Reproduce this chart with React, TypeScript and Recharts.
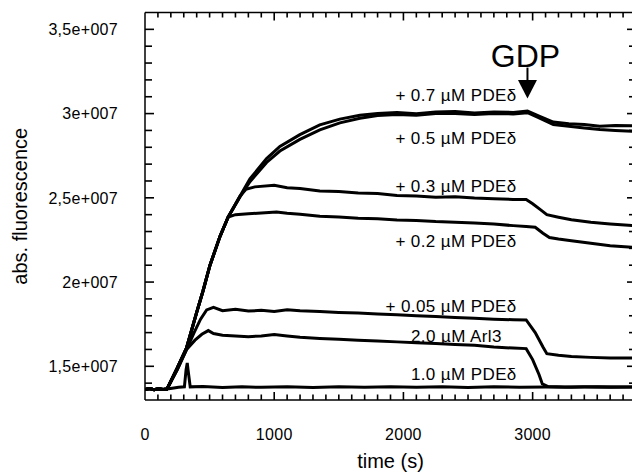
import React from 'react';
import { LineChart, Line, XAxis, YAxis, ReferenceDot, ReferenceLine } from 'recharts';

// fluorescence values are in units of 1e7, time in seconds
const preT = [0, 35, 70, 105, 140, 170];
const preV = [1.362, 1.368, 1.361, 1.367, 1.363, 1.365];

// common rise after Arl3 injection
const riseT = [250, 322, 400, 450, 503, 580, 644];
const riseV = [1.49, 1.61, 1.82, 1.95, 2.1, 2.27, 2.386];

const pde07T = [735, 812, 941, 1044, 1199, 1353, 1508, 1663, 1800, 1950, 2100, 2250, 2400, 2550, 2700, 2850, 2960, 3050, 3160, 3280, 3400, 3520, 3640, 3790];
const pde07V = [2.51, 2.612, 2.733, 2.805, 2.875, 2.933, 2.967, 2.99, 3.0, 3.006, 2.999, 3.01, 3.012, 3.004, 3.01, 3.007, 3.015, 2.985, 2.95, 2.94, 2.935, 2.925, 2.93, 2.928];

const pde05T = [735, 812, 941, 1044, 1199, 1353, 1508, 1663, 1800, 1950, 2100, 2250, 2400, 2550, 2700, 2850, 2960, 3050, 3160, 3280, 3400, 3520, 3640, 3790];
const pde05V = [2.505, 2.596, 2.71, 2.778, 2.847, 2.903, 2.945, 2.972, 2.988, 2.995, 2.99, 3.0, 3.0, 2.995, 3.0, 2.998, 3.005, 2.975, 2.935, 2.925, 2.915, 2.905, 2.9, 2.895];

const pde03T = [735, 780, 850, 1000, 1100, 1200, 1353, 1500, 1650, 1800, 1950, 2100, 2250, 2400, 2550, 2700, 2850, 2950, 3000, 3060, 3110, 3200, 3300, 3450, 3600, 3790];
const pde03V = [2.51, 2.55, 2.565, 2.574, 2.56, 2.556, 2.54, 2.537, 2.528, 2.525, 2.514, 2.511, 2.503, 2.506, 2.499, 2.495, 2.49, 2.49, 2.465, 2.43, 2.4, 2.385, 2.37, 2.355, 2.345, 2.335];

const pde02T = [700, 800, 900, 1018, 1100, 1200, 1353, 1500, 1650, 1800, 1950, 2100, 2250, 2400, 2550, 2700, 2850, 2950, 3020, 3080, 3130, 3200, 3300, 3450, 3600, 3790];
const pde02V = [2.4, 2.405, 2.41, 2.416, 2.408, 2.402, 2.39, 2.386, 2.379, 2.376, 2.369, 2.366, 2.359, 2.355, 2.35, 2.344, 2.335, 2.33, 2.325, 2.29, 2.264, 2.255, 2.245, 2.23, 2.215, 2.205];

const pde005T = [250, 322, 380, 430, 477, 530, 600, 700, 800, 900, 1000, 1100, 1200, 1353, 1500, 1650, 1800, 1950, 2100, 2250, 2400, 2550, 2700, 2850, 2950, 3020, 3080, 3110, 3200, 3300, 3450, 3600, 3790];
const pde005V = [1.48, 1.6, 1.7, 1.78, 1.835, 1.85, 1.83, 1.838, 1.828, 1.832, 1.826, 1.836, 1.83, 1.826, 1.82, 1.816, 1.81, 1.806, 1.8, 1.795, 1.79, 1.785, 1.78, 1.776, 1.775, 1.7, 1.615, 1.575, 1.565, 1.558, 1.553, 1.55, 1.55];

const arl3T = [250, 322, 387, 440, 490, 530, 600, 700, 800, 900, 1000, 1100, 1200, 1353, 1500, 1650, 1800, 1950, 2100, 2250, 2400, 2550, 2700, 2850, 2950, 3000, 3050, 3075, 3120, 3250, 3400, 3600, 3790];
const arl3V = [1.48, 1.6, 1.655, 1.69, 1.712, 1.695, 1.685, 1.68, 1.676, 1.68, 1.688, 1.68, 1.672, 1.665, 1.66, 1.655, 1.65, 1.645, 1.64, 1.635, 1.63, 1.625, 1.615, 1.608, 1.605, 1.54, 1.45, 1.395, 1.38, 1.377, 1.378, 1.376, 1.378];

const pde10T = [210, 260, 305, 318, 327, 333, 350, 450, 600, 750, 900, 1100, 1300, 1500, 1700, 1900, 2100, 2300, 2500, 2700, 2900, 3100, 3300, 3500, 3790];
const pde10V = [1.37, 1.376, 1.378, 1.48, 1.52, 1.48, 1.378, 1.38, 1.374, 1.378, 1.375, 1.379, 1.374, 1.378, 1.375, 1.379, 1.376, 1.378, 1.374, 1.378, 1.376, 1.377, 1.375, 1.378, 1.377];

const noteText = ['+ 0.7 µM PDEδ', '+ 0.5 µM PDEδ', '+ 0.3 µM PDEδ', '+ 0.2 µM PDEδ', '+ 0.05 µM PDEδ', '2.0 µM Arl3', '1.0 µM PDEδ'];
const noteT = [2877, 2877, 2877, 2877, 2877, 2761, 2877];
const noteV = [3.073, 2.822, 2.537, 2.206, 1.822, 1.644, 1.417];

const gdpT = 2960;
const gdpV = 3.089;

const xDomain = [0, 3800];
const yDomain = [1.3, 3.6];
const xMajor = [0, 1000, 2000, 3000];
const yMajor = [1.5, 2, 2.5, 3, 3.5];
const xMinor = Array.from({ length: 37 }, (_, i) => (i + 1) * 100);
const yMinor = Array.from({ length: 22 }, (_, i) => (14 + i) / 10);

const toPoints = (t: number[], v: number[]) => t.map((x, i) => ({ t: x, v: v[i] }));

const series = [
  toPoints([...preT, ...riseT, ...pde07T], [...preV, ...riseV, ...pde07V]),
  toPoints([...preT, ...riseT, ...pde05T], [...preV, ...riseV, ...pde05V]),
  toPoints([...preT, ...riseT, ...pde03T], [...preV, ...riseV, ...pde03V]),
  toPoints([...preT, ...riseT, ...pde02T], [...preV, ...riseV, ...pde02V]),
  toPoints([...preT, ...pde005T], [...preV, ...pde005V]),
  toPoints([...preT, ...arl3T], [...preV, ...arl3V]),
  toPoints([...preT, ...pde10T], [...preV, ...pde10V]),
];

const fmtY = (v: number) => `${String(v).replace('.', ',')}e+007`;

// chart layout
const W = 640;
const H = 474;
const M = { top: 12.5, right: 4, bottom: 0, left: 0 };
const X_AXIS_H = 74;
const Y_AXIS_W = 145;
const plotW = W - M.left - M.right - Y_AXIS_W;
const plotH = H - M.top - M.bottom - X_AXIS_H;
// one pixel in data units, used for tick lengths
const pxT = (xDomain[1] - xDomain[0]) / plotW;
const pxV = (yDomain[1] - yDomain[0]) / plotH;

const frame = { stroke: '#000', strokeWidth: 1.5 };
const tickFont = { fill: '#000', fontSize: 16, letterSpacing: 0.3 };

// inward tick marks on all four sides of the frame
const tickSegs: { a: { x: number; y: number }; b: { x: number; y: number } }[] = [];
xMinor.forEach((t) => {
  const major = xMajor.includes(t);
  const lb = (major ? 8 : 5.5) * pxV;
  const lt = (major ? 8 : 5) * pxV;
  tickSegs.push({ a: { x: t, y: yDomain[0] }, b: { x: t, y: yDomain[0] + lb } });
  tickSegs.push({ a: { x: t, y: yDomain[1] }, b: { x: t, y: yDomain[1] - lt } });
});
yMinor.forEach((v) => {
  const major = yMajor.includes(v);
  const l = (major ? 9 : 7) * pxT;
  tickSegs.push({ a: { x: xDomain[0], y: v }, b: { x: xDomain[0] + l, y: v } });
  tickSegs.push({ a: { x: xDomain[1], y: v }, b: { x: xDomain[1] - l, y: v } });
});

const GdpArrow = ({ cx, cy }: any) => (
  <g>
    <line x1={cx} y1={cy - 31} x2={cx} y2={cy - 17} stroke="#000" strokeWidth={2} />
    <path d={`M${cx - 9.5},${cy - 18.5} L${cx + 9.5},${cy - 18.5} L${cx},${cy} Z`} fill="#000" />
    <text x={cx - 2} y={cy - 31.6} textAnchor="middle" fontSize={32} fill="#000">
      GDP
    </text>
  </g>
);

export default function App() {
  return (
    <div
      style={{
        width: 632,
        height: 474,
        overflow: 'hidden',
        background: '#fff',
        fontFamily: "'Liberation Sans', Arial, Helvetica, sans-serif",
      }}
    >
      <style>{'html, body { margin: 0; padding: 0; overflow: hidden; }'}</style>
      <LineChart width={W} height={H} data={series[6]} margin={M}>
        <XAxis
          xAxisId="x"
          type="number"
          dataKey="t"
          domain={xDomain}
          allowDataOverflow
          ticks={xMajor}
          interval={0}
          height={X_AXIS_H}
          tickLine={false}
          tickSize={0}
          tickMargin={29}
          axisLine={frame}
          tick={tickFont}
          label={{ value: 'time (s)', position: 'insideBottom', offset: 6, fill: '#000', fontSize: 20 }}
        />
        <XAxis
          xAxisId="xt"
          orientation="top"
          mirror
          type="number"
          dataKey="t"
          domain={xDomain}
          allowDataOverflow
          height={1}
          tick={false}
          tickLine={false}
          axisLine={frame}
        />
        <YAxis
          yAxisId="y"
          type="number"
          domain={yDomain}
          allowDataOverflow
          ticks={yMajor}
          interval={0}
          width={Y_AXIS_W}
          tickLine={false}
          tickSize={0}
          tickMargin={27}
          tickFormatter={fmtY}
          axisLine={frame}
          tick={tickFont}
          label={{
            value: 'abs. fluorescence',
            angle: -90,
            position: 'insideLeft',
            offset: 20,
            fill: '#000',
            fontSize: 20,
            style: { textAnchor: 'middle' },
          }}
        />
        <YAxis
          yAxisId="yr"
          orientation="right"
          mirror
          type="number"
          dataKey="v"
          domain={yDomain}
          allowDataOverflow
          width={1}
          tick={false}
          tickLine={false}
          axisLine={frame}
        />
        {series.map((d, i) => (
          <Line
            key={i}
            xAxisId="x"
            yAxisId="y"
            data={d}
            dataKey="v"
            type="linear"
            stroke="#000"
            strokeWidth={3}
            dot={false}
            isAnimationActive={false}
          />
        ))}
        {tickSegs.map((s, i) => (
          <ReferenceLine
            key={`tk${i}`}
            xAxisId="x"
            yAxisId="y"
            segment={[s.a, s.b]}
            ifOverflow="visible"
            stroke="#000"
            strokeWidth={1.6}
          />
        ))}
        {noteText.map((txt, i) => (
          <ReferenceDot
            key={txt}
            xAxisId="x"
            yAxisId="y"
            x={noteT[i]}
            y={noteV[i]}
            shape={(p: any) => (
              <text x={p.cx} y={p.cy} textAnchor="end" fontSize={17} letterSpacing={0.4} fill="#000">
                {txt}
              </text>
            )}
          />
        ))}
        <ReferenceDot xAxisId="x" yAxisId="y" x={gdpT} y={gdpV} shape={GdpArrow} />
      </LineChart>
    </div>
  );
}
